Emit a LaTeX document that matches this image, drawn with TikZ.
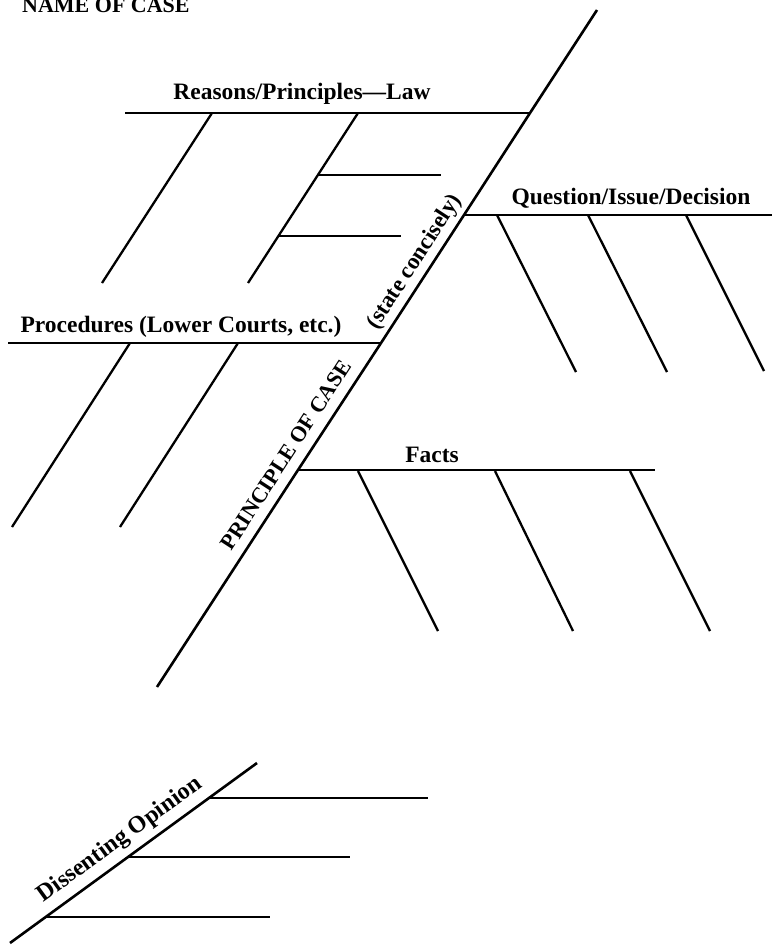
\documentclass[tikz,border=0pt]{standalone}
\usepackage{fontspec}
\setmainfont{Liberation Serif}
\begin{document}
\begin{tikzpicture}[x=1pt,y=-1pt,
  bone/.style={line width=2.6pt},
  rib/.style={line width=2.3pt},
  lbl/.style={font=\fontsize{23.5}{26}\selectfont\bfseries, inner sep=0pt},
  caplbl/.style={font=\fontsize{22}{24}\selectfont\bfseries, inner sep=0pt}]
\useasboundingbox (0,0) rectangle (772,947);
% spine
\coordinate (top) at (597,10);
\coordinate (bot) at (157,687);
\coordinate (jR) at (530,113);
\coordinate (jQ) at (464,215);
\coordinate (jP) at (381,343);
\coordinate (jF) at (298,470);
\draw[bone] (bot) -- (jF) -- (jP) -- (jQ) -- (jR) -- (top);
% title
\node[caplbl, anchor=base west] (name) at (22,13) {NAME OF CASE};
% Reasons
\coordinate (rL) at (125,113);
\draw[bone] (rL) -- (jR);
\coordinate (r1a) at (212,113); \coordinate (r1b) at (102,283);
\coordinate (r2a) at (358,113); \coordinate (r2b) at (248,283);
\draw[rib] (r1a) -- (r1b);
\draw[rib] (r2a) -- (r2b);
\coordinate (t1a) at (318,175); \coordinate (t1b) at (441,175);
\coordinate (t2a) at (278,236); \coordinate (t2b) at (401,236);
\draw[bone] (t1a) -- (t1b);
\draw[bone] (t2a) -- (t2b);
\node[lbl, anchor=base] (reasons) at (302,100) {Reasons/Principles---Law};
% Question
\coordinate (qR) at (772,215);
\draw[bone] (jQ) -- (qR);
\coordinate (q1a) at (497,215); \coordinate (q1b) at (576,372);
\coordinate (q2a) at (588,215); \coordinate (q2b) at (667,372);
\coordinate (q3a) at (686,215); \coordinate (q3b) at (764,371);
\draw[rib] (q1a) -- (q1b);
\draw[rib] (q2a) -- (q2b);
\draw[rib] (q3a) -- (q3b);
\node[lbl, anchor=base] (question) at (631,204) {Question/Issue/Decision};
% Procedures
\coordinate (pL) at (8,343);
\draw[bone] (pL) -- (jP);
\coordinate (p1a) at (130,343); \coordinate (p1b) at (12,527);
\coordinate (p2a) at (238,343); \coordinate (p2b) at (120,527);
\draw[rib] (p1a) -- (p1b);
\draw[rib] (p2a) -- (p2b);
\node[lbl, anchor=base] (procedures) at (181,332) {Procedures (Lower Courts, etc.)};
% Facts
\coordinate (fR) at (655,470);
\draw[bone] (jF) -- (fR);
\coordinate (f1a) at (358,471); \coordinate (f1b) at (438,631);
\coordinate (f2a) at (495,471); \coordinate (f2b) at (573,631);
\coordinate (f3a) at (630,471); \coordinate (f3b) at (710,631);
\draw[rib] (f1a) -- (f1b);
\draw[rib] (f2a) -- (f2b);
\draw[rib] (f3a) -- (f3b);
\node[lbl, anchor=base] (facts) at (432,462) {Facts};
% spine labels
\node[caplbl, rotate=57] (principle) at (286,455) {PRINCIPLE OF CASE};
\node[lbl, font=\fontsize{23}{25}\selectfont\bfseries, rotate=57] (state) at (415,262) {(state concisely)};
% Dissenting opinion
\coordinate (dB) at (10,943);
\coordinate (dT) at (257,763);
\draw[bone] (dB) -- (dT);
\coordinate (d1a) at (209,798); \coordinate (d1b) at (428,798);
\coordinate (d2a) at (129,857); \coordinate (d2b) at (350,857);
\coordinate (d3a) at (46,917); \coordinate (d3b) at (270,917);
\draw[bone] (d1a) -- (d1b);
\draw[bone] (d2a) -- (d2b);
\draw[bone] (d3a) -- (d3b);
\node[lbl, font=\fontsize{24}{26}\selectfont\bfseries, rotate=36] (dissent) at (120,840) {Dissenting Opinion};
\end{tikzpicture}
\end{document}
